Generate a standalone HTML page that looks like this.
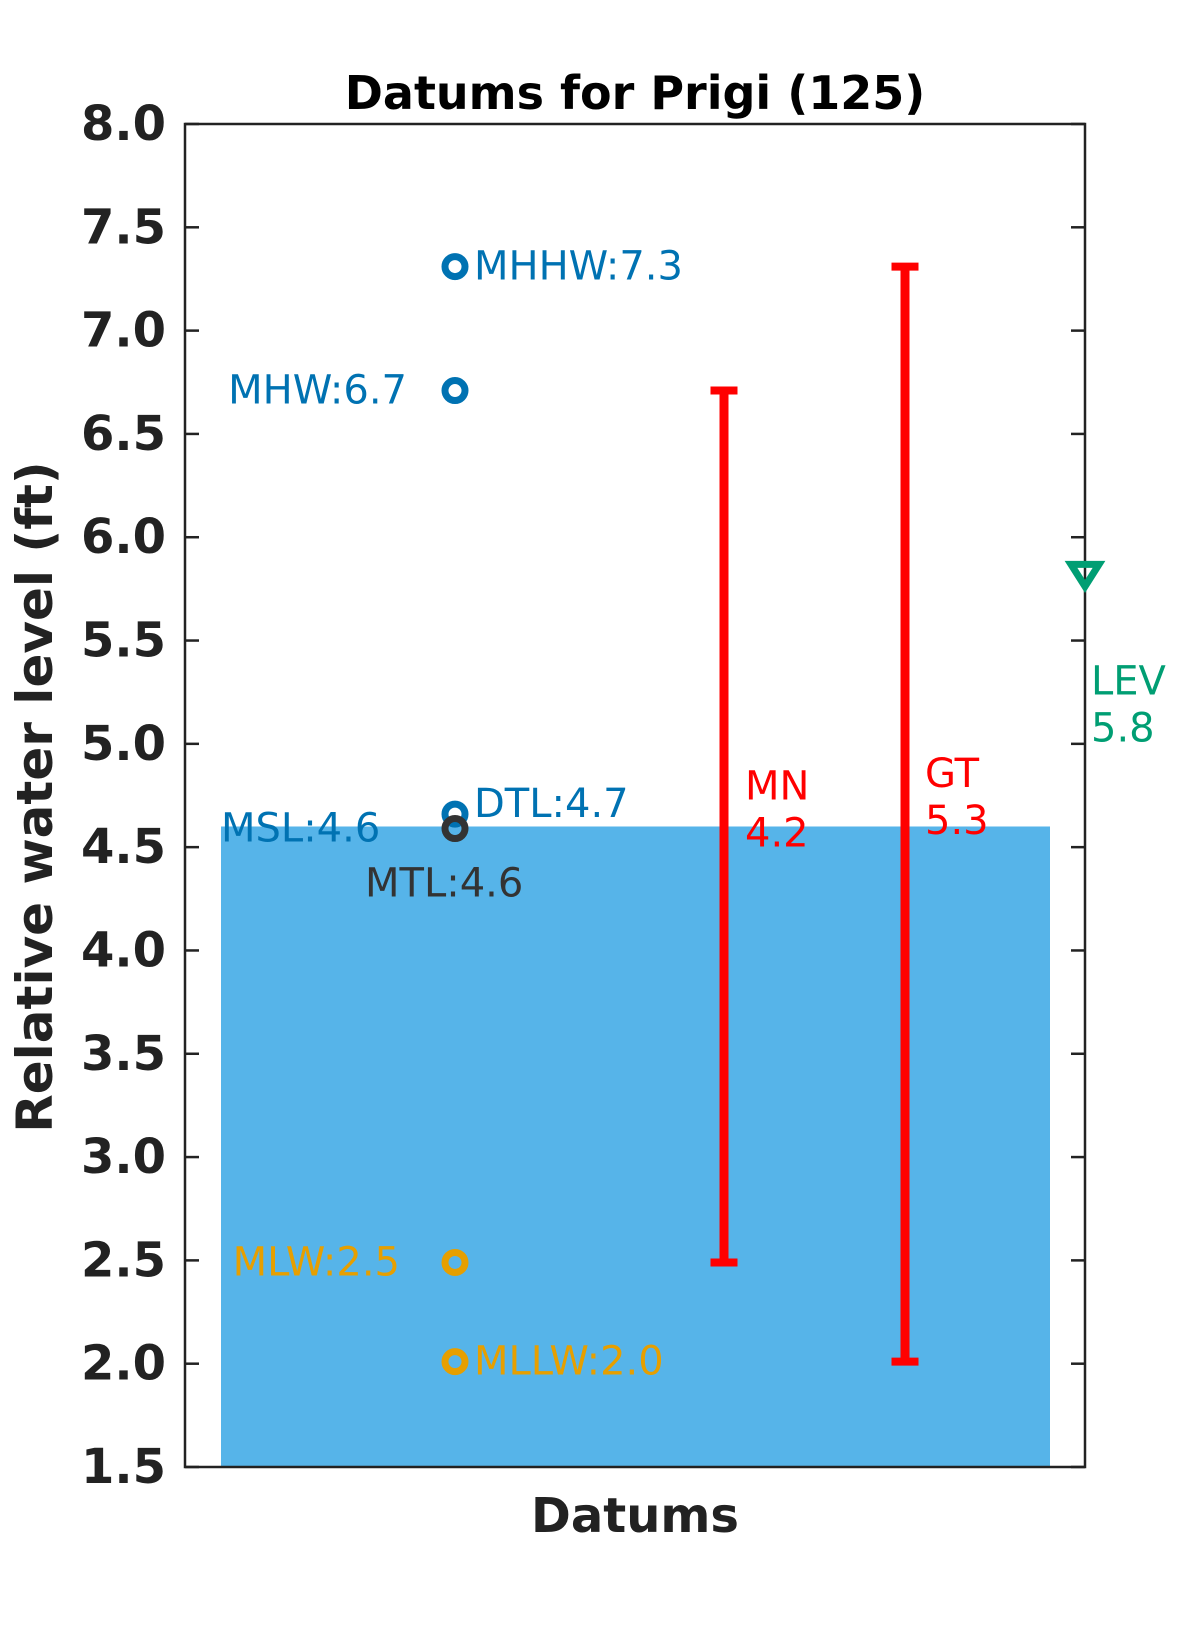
<!DOCTYPE html>
<html><head><meta charset="utf-8"><style>
html,body{margin:0;padding:0;background:#fff;}
svg{display:block;font-family:"DejaVu Sans","Liberation Sans",sans-serif;}
</style></head><body>
<svg id="chart" width="1200" height="1650" viewBox="0 0 1200 1650">
<text x="635" y="93" text-anchor="middle" dominant-baseline="central" font-size="46" font-weight="bold" fill="#000">Datums for Prigi (125)</text>
<text transform="translate(35,797) rotate(-90)" text-anchor="middle" dominant-baseline="central" font-size="50" font-weight="bold" fill="#222">Relative water level (ft)</text>
<text x="635" y="1516" text-anchor="middle" dominant-baseline="central" font-size="48" font-weight="bold" fill="#222">Datums</text>
<g id="plot"></g>
</svg>
<script>
const yTicks = [1.5,2.0,2.5,3.0,3.5,4.0,4.5,5.0,5.5,6.0,6.5,7.0,7.5,8.0];
const yTickLabels = ["1.5","2.0","2.5","3.0","3.5","4.0","4.5","5.0","5.5","6.0","6.5","7.0","7.5","8.0"];
const barValue = 4.6;
const datumNames = ["MHHW","MHW","DTL","MTL","MSL","MLW","MLLW"];
const datumValues = [7.31,6.71,4.66,4.59,4.59,2.49,2.01];
const datumLabels = ["MHHW:7.3","MHW:6.7","DTL:4.7","MTL:4.6","MSL:4.6","MLW:2.5","MLLW:2.0"];
const rangeNames = ["MN","GT"];
const rangeLow = [2.49,2.01];
const rangeHigh = [6.71,7.31];
const rangeLabels = ["4.2","5.3"];
const levValue = 5.82;
const levLabel = "5.8";

const NS="http://www.w3.org/2000/svg";
const L=185,R=1085,T=124,B=1467,yMin=1.5,yMax=8.0;
const y=v=>T+(yMax-v)/(yMax-yMin)*(B-T);
const g=document.getElementById('plot');
function mk(tag,attrs,parent){const e=document.createElementNS(NS,tag);for(const k in attrs)e.setAttribute(k,attrs[k]);(parent||g).appendChild(e);return e;}

// bar
let bar=mk('rect',{x:221,y:y(barValue),width:1050-221,height:B-y(barValue),fill:'#56B4E9'});



// axes frame
let fr=mk('rect',{x:L,y:T,width:R-L,height:B-T,fill:'none',stroke:'#222',"stroke-width":2.5});



yTicks.forEach((v,i)=>{
  const yy=y(v);
  let t1=mk('line',{x1:L,x2:L+14,y1:yy,y2:yy,stroke:'#222',"stroke-width":2.5});
  
  
  let t2=mk('line',{x1:R-14,x2:R,y1:yy,y2:yy,stroke:'#222',"stroke-width":2.5});
  
  
  let tx=mk('text',{x:166,y:yy,"text-anchor":"end","dominant-baseline":"central","font-size":48,"font-weight":"bold",fill:"#222"});
  tx.textContent=yTickLabels[i];
  
  
});

// range error bars
const rangeX=[724,905], rangeLX=[745,925];
rangeNames.forEach((n,i)=>{
  const x=rangeX[i],y1=y(rangeLow[i]),y2=y(rangeHigh[i]);
  let gr=mk('g',{});
  
  
  mk('line',{x1:x,x2:x,y1:y1,y2:y2,stroke:'#f00',"stroke-width":9},gr);
  mk('line',{x1:x-13.5,x2:x+13.5,y1:y1,y2:y1,stroke:'#f00',"stroke-width":8},gr);
  mk('line',{x1:x-13.5,x2:x+13.5,y1:y2,y2:y2,stroke:'#f00',"stroke-width":8},gr);
  const my=(y1+y2)/2;
  let t=mk('text',{x:rangeLX[i],y:my-40,"font-size":40,fill:'#f00',"dominant-baseline":"central"});
  t.textContent=n;
  
  
  let t2=mk('text',{x:rangeLX[i],y:my+7,"font-size":40,fill:'#f00',"dominant-baseline":"central"});
  t2.textContent=rangeLabels[i];
  
  
});

// datum markers
const colors={MHHW:'#0072B2',MHW:'#0072B2',DTL:'#0072B2',MSL:'#0072B2',MTL:'#333333',MLW:'#E69F00',MLLW:'#E69F00'};
const MX=455;
const labelPos={MHHW:[474,0,'start'],MHW:[407,0,'end'],DTL:[474,-10,'start'],MTL:[365,55,'start'],MSL:[221,0,'start'],MLW:[400,0,'end'],MLLW:[474,0,'start']};
datumNames.forEach((n,i)=>{
  const yy=y(datumValues[i]);
  if(n!=='MSL'){
    let c=mk('circle',{cx:MX,cy:yy,r:10,fill:'none',stroke:colors[n],"stroke-width":7});
    
    
  }
  const p=labelPos[n];
  let t=mk('text',{x:p[0],y:yy+p[1],"text-anchor":p[2],"dominant-baseline":"central","font-size":40,fill:colors[n]});
  t.textContent=datumLabels[i];
  
  
});

// LEV marker
const ly=y(levValue);
let tri=mk('path',{d:`M${R-14},${ly-10} L${R+14},${ly-10} L${R},${ly+12} Z`,fill:'none',stroke:'#009E73',"stroke-width":7,"stroke-linejoin":"miter"});


let lt=mk('text',{x:1091,y:ly+107,"font-size":40,fill:'#009E73',"dominant-baseline":"central"});
lt.textContent="LEV";


let lv=mk('text',{x:1091,y:ly+154,"font-size":40,fill:'#009E73',"dominant-baseline":"central"});
lv.textContent=levLabel;


</script>
</body></html>
